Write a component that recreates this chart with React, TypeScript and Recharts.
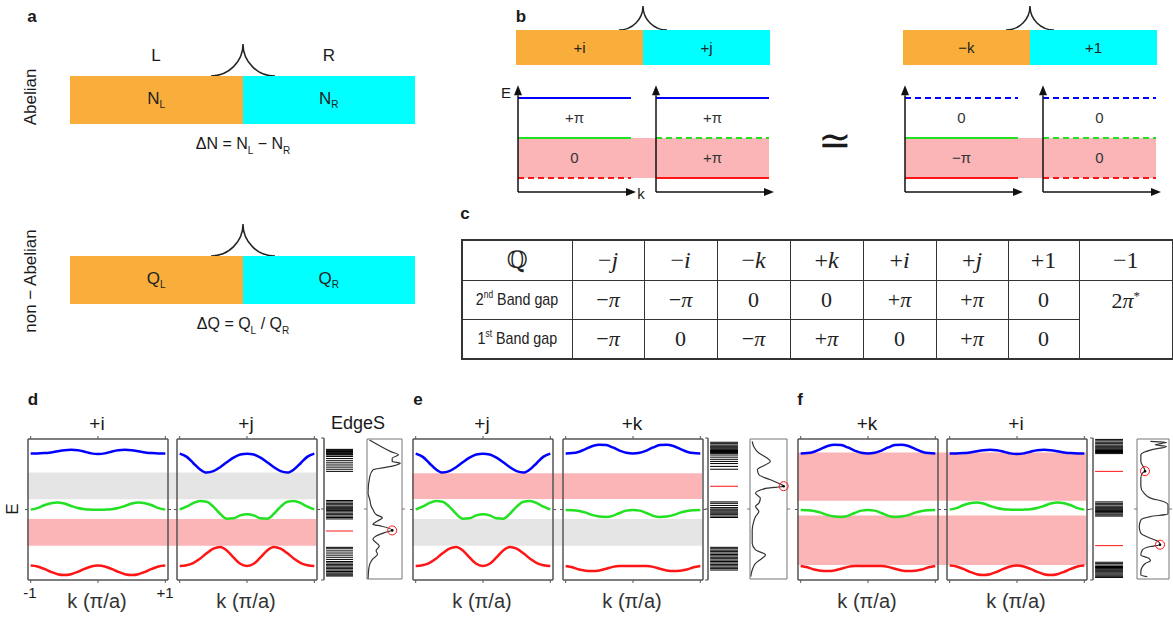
import React from "react";
import {
  ComposedChart,
  LineChart,
  Line,
  XAxis,
  YAxis,
  ReferenceArea,
  ReferenceLine,
  ReferenceDot,
} from "recharts";

// ---------- data ----------
const kGrid = [-1, -0.9, -0.8, -0.7, -0.6, -0.5, -0.4, -0.3, -0.2, -0.1, 0, 0.1, 0.2, 0.3, 0.4, 0.5, 0.6, 0.7, 0.8, 0.9, 1];

// +i bands
const iBlue = [8.98, 8.98, 9.0, 9.05, 9.13, 9.2, 9.23, 9.2, 9.1, 8.98, 8.94, 8.98, 9.1, 9.2, 9.23, 9.2, 9.13, 9.05, 9.0, 8.98, 8.98];
const iGreen = [4.99, 5.1, 5.3, 5.45, 5.5, 5.42, 5.25, 5.1, 5.02, 4.99, 4.98, 4.99, 5.02, 5.1, 5.25, 5.42, 5.5, 5.45, 5.3, 5.1, 4.99];
const iRed = [1.02, 0.96, 0.79, 0.58, 0.41, 0.35, 0.41, 0.58, 0.79, 0.96, 1.02, 0.96, 0.79, 0.58, 0.41, 0.35, 0.41, 0.58, 0.79, 0.96, 1.02];
// +j bands
const jBlue = [8.96, 8.75, 8.3, 7.85, 7.62, 7.72, 8.0, 8.35, 8.68, 8.9, 8.96, 8.9, 8.68, 8.35, 8.0, 7.72, 7.62, 7.85, 8.3, 8.75, 8.96];
const jGreen = [5.01, 5.2, 5.45, 5.6, 5.55, 5.2, 4.7, 4.35, 4.38, 4.58, 4.66, 4.58, 4.38, 4.35, 4.7, 5.2, 5.55, 5.6, 5.45, 5.2, 5.01];
const jRed = [0.99, 1.04, 1.2, 1.5, 1.9, 2.22, 2.34, 2.1, 1.6, 1.15, 1.0, 1.15, 1.6, 2.1, 2.34, 2.22, 1.9, 1.5, 1.2, 1.04, 0.99];
// +k bands
const kBlue = [8.98, 9.0, 9.1, 9.3, 9.5, 9.6, 9.57, 9.4, 9.18, 9.02, 8.98, 9.02, 9.18, 9.4, 9.57, 9.6, 9.5, 9.3, 9.1, 9.0, 8.98];
const kGreen = [4.96, 4.95, 4.9, 4.78, 4.6, 4.5, 4.47, 4.55, 4.75, 4.92, 4.96, 4.92, 4.75, 4.55, 4.47, 4.5, 4.6, 4.78, 4.9, 4.95, 4.96];
const kRed = [1.0, 0.9, 0.75, 0.66, 0.64, 0.68, 0.8, 0.93, 0.99, 1.0, 1.0, 1.0, 0.99, 0.93, 0.8, 0.68, 0.64, 0.66, 0.75, 0.9, 1.0];

// shaded gaps (E ranges)
const dGray = [5.65, 7.55];
const dPink = [2.35, 4.26];
const ePink = [5.67, 7.5];
const eGray = [2.36, 4.26];
const fPinkTop = [5.55, 8.98];
const fPinkBottom = [1.0, 4.5];

// edge-state levels
const dLevels = [9.2, 9.15, 9.1, 9.05, 9.0, 8.95, 8.9, 8.85, 8.8, 8.7, 8.55, 8.4, 8.25, 8.1, 7.95, 7.8, 7.65,
  5.6, 5.5, 5.4, 5.3, 5.2, 5.12, 5.05, 4.98, 4.9, 4.8, 4.7, 4.6, 4.5, 4.4, 4.3,
  2.3, 2.2, 2.05, 1.9, 1.75, 1.6, 1.45, 1.3, 1.2, 1.1, 1.0, 0.9, 0.8, 0.7, 0.6, 0.5, 0.42, 0.35, 0.28];
const dEdge = [3.45];
const eLevels = [9.7, 9.6, 9.5, 9.42, 9.35, 9.28, 9.2, 9.12, 9.05, 8.98, 8.9, 8.8, 8.65, 8.5, 8.35, 8.2, 8.0, 7.8,
  5.5, 5.4, 5.25, 5.1, 5.0, 4.93, 4.86, 4.78, 4.7, 4.6, 4.5, 4.4,
  2.3, 2.2, 2.1, 2.0, 1.9, 1.8, 1.7, 1.6, 1.5, 1.4, 1.3, 1.2, 1.1, 1.0, 0.9, 0.8, 0.7];
const eEdge = [6.6];
const fLevels = [9.9, 9.8, 9.7, 9.6, 9.5, 9.42, 9.35, 9.28, 9.2, 9.12, 9.05, 8.98, 8.9,
  5.5, 5.4, 5.3, 5.2, 5.12, 5.05, 4.98, 4.9, 4.82, 4.74, 4.65, 4.58, 4.5,
  1.25, 1.15, 1.05, 0.95, 0.88, 0.8, 0.72, 0.65, 0.58, 0.5, 0.42, 0.34, 0.26, 0.18];
const fEdge = [7.65, 2.42];

// edge density of states (E, value)
const dDosE = [9.93, 9.46, 9.1, 8.87, 8.63, 8.39, 8.27, 8.04, 7.8, 7.33, 6.15, 5.67, 5.2, 4.96, 4.61, 4.37, 4.14, 3.9, 3.78, 3.5, 3.31, 3.07, 2.84, 2.6, 2.36, 2.01, 1.77, 1.42, 1.06, 0.71, 0.0];
const dDosV = [0.07, 0.4, 0.68, 0.9, 0.72, 0.72, 0.95, 0.68, 0.17, 0.08, 0.03, 0.08, 0.12, 0.17, 0.26, 0.44, 0.3, 0.17, 0.4, 0.72, 0.5, 0.26, 0.17, 0.26, 0.35, 0.26, 0.3, 0.16, 0.08, 0.05, 0.03];
const dDotE = [3.47];
const dDotV = [0.72];
const eDosE = [9.83, 9.47, 9.0, 8.64, 8.4, 8.16, 7.8, 7.45, 7.09, 6.78, 6.63, 6.49, 6.13, 5.78, 5.42, 5.18, 4.82, 4.46, 4.1, 3.51, 2.55, 2.08, 1.72, 1.48, 1.12, 0.64, 0.17];
const eDosV = [0.06, 0.1, 0.24, 0.46, 0.55, 0.42, 0.2, 0.24, 0.55, 0.82, 0.91, 0.46, 0.15, 0.28, 0.24, 0.15, 0.24, 0.15, 0.1, 0.06, 0.06, 0.15, 0.42, 0.33, 0.15, 0.06, 0.02];
const eDotE = [6.63];
const eDotV = [0.91];
const fDosE = [9.83, 9.76, 9.59, 9.47, 9.24, 8.88, 8.4, 7.92, 7.7, 7.57, 7.21, 6.61, 6.13, 5.78, 5.54, 5.3, 4.65, 4.46, 4.22, 3.75, 3.27, 2.91, 2.67, 2.45, 2.32, 2.08, 1.72, 1.48, 1.31, 1.12, 0.88, 0.53, 0.29, 0.17];
const fDosV = [0.42, 0.92, 0.57, 0.92, 0.47, 0.12, 0.12, 0.22, 0.25, 0.17, 0.12, 0.12, 0.22, 0.42, 0.82, 0.97, 0.97, 0.42, 0.12, 0.07, 0.12, 0.42, 0.67, 0.72, 0.42, 0.17, 0.12, 0.37, 0.42, 0.27, 0.17, 0.12, 0.12, 0.32];
const fDotE = [7.7, 2.45];
const fDotV = [0.25, 0.72];

// panel b schematic
const bLevels = [1, 2, 3];
const bOrigins = [13, 151];
const leftDash = [[true, false, false], [false, true, false]];
const rightDash = [[false, false, true], [true, true, true]];
const leftGaps = [["0", "+π"], ["+π", "+π"]];
const rightGaps = [["−π", "0"], ["0", "0"]];

// table c
const qHead = [["−", "j"], ["−", "i"], ["−", "k"], ["+", "k"], ["+", "i"], ["+", "j"], ["+1", ""], ["−1", ""]];
const gap2nd = [["−", "π"], ["−", "π"], ["0", ""], ["0", ""], ["+", "π"], ["+", "π"], ["0", ""]];
const gap1st = [["−", "π"], ["0", ""], ["−", "π"], ["+", "π"], ["0", ""], ["+", "π"], ["0", ""]];

// ---------- styling ----------
const FONT = "'Liberation Sans', Arial, sans-serif";
const SERIF = "'Liberation Serif', 'DejaVu Serif', serif";
const ORANGE = "#F9AE3C";
const CYAN = "#00FFFF";
const PINK = "#FBB5B6";
const GRAY = "#E5E5E5";
const BLUE = "#0000FF";
const GREEN = "#22E022";
const RED = "#FF1515";
const FRAME = "#555";
const bColors = [RED, GREEN, BLUE];

const P = 5;
const BOX_TOP = 438;
const BOX_H = 141;
const BOX_W = 140;

function Txt({ x, y, size = 16, bold = false, rotate = 0, family = FONT, color = "#1a1a1a", children }: any) {
  return (
    <div
      style={{
        position: "absolute",
        left: x,
        top: y,
        transform: `translate(-50%, -50%) rotate(${rotate}deg)`,
        fontSize: size,
        fontFamily: family,
        fontWeight: bold ? 700 : 400,
        whiteSpace: "nowrap",
        lineHeight: 1,
        color,
      }}
    >
      {children}
    </div>
  );
}

function Cusp({ cx, base, r }: any) {
  return (
    <svg style={{ position: "absolute", left: cx - r - 2, top: base - r - 2 }} width={2 * r + 4} height={r + 4}>
      <path
        d={`M2 ${r + 2} A${r} ${r} 0 0 0 ${r + 2} 2 A${r} ${r} 0 0 0 ${2 * r + 2} ${r + 2}`}
        fill="none"
        stroke="#222"
        strokeWidth={1.5}
      />
    </svg>
  );
}

function SplitBar({ left, top, w, h, a, b, size = 16 }: any) {
  return (
    <div style={{ position: "absolute", left, top, width: w, height: h, display: "flex", fontFamily: FONT, fontSize: size, color: "#222" }}>
      <div style={{ flex: 1, background: ORANGE, display: "flex", alignItems: "center", justifyContent: "center" }}>{a}</div>
      <div style={{ flex: 1, background: CYAN, display: "flex", alignItems: "center", justifyContent: "center" }}>{b}</div>
    </div>
  );
}

const Arrow = (p: any) => {
  const { x1, y1, x2, y2 } = p;
  const ang = Math.atan2(y2 - y1, x2 - x1);
  const L = 10;
  const W = 4;
  const bx = x2 - L * Math.cos(ang);
  const by = y2 - L * Math.sin(ang);
  const px = -Math.sin(ang) * W;
  const py = Math.cos(ang) * W;
  return (
    <g>
      <line x1={x1} y1={y1} x2={bx} y2={by} stroke="#111" strokeWidth={1.5} />
      <polygon points={`${x2},${y2} ${bx + px},${by + py} ${bx - px},${by - py}`} fill="#111" />
    </g>
  );
};

function BPair({ left, dashes, gaps }: any) {
  const LEN = 113;
  return (
    <div style={{ position: "absolute", left, top: 78 }}>
      <ComposedChart width={275} height={120} margin={{ top: 0, right: 0, bottom: 0, left: 0 }} data={bOrigins.map((o) => ({ x: o }))}>
        <XAxis dataKey="x" type="number" domain={[0, 275]} allowDataOverflow hide />
        <YAxis type="number" domain={[0.5, 3.5]} allowDataOverflow hide />
        <ReferenceArea x1={bOrigins[0]} x2={bOrigins[1] + LEN} y1={bLevels[0]} y2={bLevels[1]} fill={PINK} fillOpacity={1} stroke="none" />
        {bOrigins.map((o, s) =>
          [0, 1].map((g) => (
            <ReferenceArea
              key={`g${s}${g}`}
              x1={o}
              x2={o + LEN}
              y1={bLevels[g]}
              y2={bLevels[g + 1]}
              fill="none"
              fillOpacity={0}
              stroke="none"
              label={{ value: gaps[s][g], position: "center", fill: "#333", fontSize: 15, fontFamily: FONT }}
            />
          ))
        )}
        {bOrigins.map((o, s) =>
          bLevels.map((lv, li) => (
            <ReferenceLine
              key={`l${s}${li}`}
              segment={[{ x: o, y: lv }, { x: o + LEN, y: lv }]}
              stroke={bColors[li]}
              strokeWidth={2}
              strokeDasharray={dashes[s][li] ? "6 4" : undefined}
            />
          ))
        )}
        {bOrigins.map((o, s) => (
          <ReferenceLine key={`ay${s}`} segment={[{ x: o, y: 0.65 }, { x: o, y: 3.32 }]} shape={Arrow} />
        ))}
        {bOrigins.map((o, s) => (
          <ReferenceLine key={`ax${s}`} segment={[{ x: o, y: 0.65 }, { x: o + 118, y: 0.65 }]} shape={Arrow} />
        ))}
      </ComposedChart>
    </div>
  );
}

const axisLine = { stroke: FRAME, strokeWidth: 1.5 };
const tickLine = { stroke: FRAME, strokeWidth: 1 };
const blank = () => "";

function BandBox({ left, blue, green, red }: any) {
  const data = kGrid.map((k, i) => ({ k, blue: blue[i], green: green[i], red: red[i] }));
  return (
    <div style={{ position: "absolute", left: left - P, top: BOX_TOP - P }}>
      <LineChart width={BOX_W + 2 * P + 2} height={BOX_H + 2 * P + 2} data={data} margin={{ top: P, right: P, bottom: P, left: P }}>
        <XAxis dataKey="k" type="number" domain={[-1.04, 1.04]} allowDataOverflow ticks={[-1, 0, 1]} height={1} tickSize={3} tickFormatter={blank} axisLine={axisLine} tickLine={tickLine} />
        <XAxis xAxisId="top" orientation="top" dataKey="k" type="number" domain={[-1.04, 1.04]} allowDataOverflow ticks={[-1, 0, 1]} height={1} tickSize={3} tickFormatter={blank} axisLine={axisLine} tickLine={tickLine} />
        <YAxis type="number" domain={[0, 10]} allowDataOverflow ticks={[5]} width={1} tickSize={3} tickFormatter={blank} axisLine={axisLine} tickLine={tickLine} />
        <YAxis yAxisId="right" orientation="right" type="number" domain={[0, 10]} allowDataOverflow ticks={[5]} width={1} tickSize={3} tickFormatter={blank} axisLine={axisLine} tickLine={tickLine} />
        <Line dataKey="blue" type="monotone" stroke={BLUE} strokeWidth={2.5} dot={false} isAnimationActive={false} />
        <Line dataKey="green" type="monotone" stroke={GREEN} strokeWidth={2.5} dot={false} isAnimationActive={false} />
        <Line dataKey="red" type="monotone" stroke={RED} strokeWidth={2.5} dot={false} isAnimationActive={false} />
      </LineChart>
    </div>
  );
}

function Shade({ left, right, areas }: any) {
  return (
    <div style={{ position: "absolute", left, top: BOX_TOP }}>
      <ComposedChart width={right - left} height={BOX_H} margin={{ top: 0, right: 0, bottom: 0, left: 0 }} data={[{ x: 0 }, { x: 1 }]}>
        <XAxis dataKey="x" type="number" domain={[0, 1]} allowDataOverflow hide />
        <YAxis type="number" domain={[0, 10]} allowDataOverflow hide />
        {areas.map((a: any, i: number) => (
          <ReferenceArea key={i} x1={0} x2={1} y1={a.range[0]} y2={a.range[1]} fill={a.color} fillOpacity={1} stroke="none" />
        ))}
      </ComposedChart>
    </div>
  );
}

function EdgeBars({ axisX, right, levels, edge }: any) {
  return (
    <div style={{ position: "absolute", left: axisX - P, top: BOX_TOP - P }}>
      <ComposedChart width={right - axisX + 2 * P} height={BOX_H + 2 * P + 1} margin={{ top: P, right: P, bottom: P, left: P }} data={[{ x: 0 }, { x: 1 }]}>
        <XAxis dataKey="x" type="number" domain={[0, 1]} allowDataOverflow hide />
        <YAxis type="number" domain={[0, 10]} allowDataOverflow ticks={[0, 5, 10]} width={1} tickSize={3} tickFormatter={blank} axisLine={axisLine} tickLine={tickLine} />
        {levels.map((lv: number, i: number) => (
          <ReferenceLine key={i} segment={[{ x: 0.07, y: lv }, { x: 1, y: lv }]} stroke="#000" strokeWidth={1} />
        ))}
        {edge.map((lv: number, i: number) => (
          <ReferenceLine key={`r${i}`} segment={[{ x: 0.07, y: lv }, { x: 1, y: lv }]} stroke={RED} strokeWidth={1} />
        ))}
      </ComposedChart>
    </div>
  );
}

const thin = { stroke: "#777", strokeWidth: 1 };

function Dos({ left, right, es, vs, dotE, dotV }: any) {
  const data = es.map((e: number, i: number) => ({ E: e, v: vs[i] })).reverse();
  return (
    <div style={{ position: "absolute", left: left - P, top: BOX_TOP - P }}>
      <LineChart layout="vertical" width={right - left + 2 * P + 1} height={BOX_H + 2 * P + 1} data={data} margin={{ top: P, right: P, bottom: P, left: P }}>
        <XAxis type="number" domain={[0, 1]} allowDataOverflow height={1} tick={false} tickLine={false} axisLine={thin} />
        <XAxis xAxisId="top" orientation="top" type="number" domain={[0, 1]} allowDataOverflow height={1} tick={false} tickLine={false} axisLine={thin} />
        <YAxis type="number" dataKey="E" reversed domain={[0, 10]} allowDataOverflow ticks={[5]} width={1} tickSize={3} tickFormatter={blank} axisLine={thin} tickLine={thin} />
        <YAxis yAxisId="right" orientation="right" type="number" dataKey="E" reversed domain={[0, 10]} allowDataOverflow ticks={[5]} width={1} tickSize={3} tickFormatter={blank} axisLine={thin} tickLine={thin} />
        <Line dataKey="v" type="monotone" stroke="#333" strokeWidth={1.2} dot={false} isAnimationActive={false} />
        {dotE.map((e: number, i: number) => (
          <ReferenceDot key={`c${i}`} x={dotV[i]} y={e} r={4.5} fill="none" stroke={RED} strokeWidth={1} />
        ))}
        {dotE.map((e: number, i: number) => (
          <ReferenceDot key={`d${i}`} x={dotV[i]} y={e} r={1.3} fill="#000" stroke="none" />
        ))}
      </LineChart>
    </div>
  );
}

function KLabel({ x }: any) {
  return (
    <Txt x={x} y={601} size={20} color="#333">
      k (π/a)
    </Txt>
  );
}

function Cell({ children, style }: any) {
  return (
    <td style={{ border: "1.5px solid #333", textAlign: "center", verticalAlign: "middle", padding: 0, ...style }}>{children}</td>
  );
}

function Sym({ s }: any) {
  return (
    <span>
      {s[0]}
      <i>{s[1]}</i>
    </span>
  );
}

function RowLabel({ n, sfx }: any) {
  return (
    <span style={{ display: "inline-block", transform: "scaleX(0.84)", fontFamily: FONT, fontSize: 17, whiteSpace: "nowrap" }}>
      {n}
      <sup style={{ fontSize: 10 }}>{sfx}</sup> Band gap
    </span>
  );
}

function TableC() {
  const colW = [110, 72, 73, 73, 73, 73, 72, 71, 94];
  return (
    <table
      style={{
        position: "absolute",
        left: 461,
        top: 239,
        borderCollapse: "collapse",
        border: "2px solid #333",
        tableLayout: "fixed",
        width: 711,
        fontFamily: SERIF,
        color: "#222",
      }}
    >
      <colgroup>
        {colW.map((w, i) => (
          <col key={i} style={{ width: w }} />
        ))}
      </colgroup>
      <tbody>
        <tr style={{ height: 40 }}>
          <Cell style={{ fontSize: 24 }}>ℚ</Cell>
          {qHead.map((s, i) => (
            <Cell key={i} style={{ fontSize: 24 }}>
              <Sym s={s} />
            </Cell>
          ))}
        </tr>
        <tr style={{ height: 39 }}>
          <Cell>
            <RowLabel n="2" sfx="nd" />
          </Cell>
          {gap2nd.map((s, i) => (
            <Cell key={i} style={{ fontSize: 22 }}>
              <Sym s={s} />
            </Cell>
          ))}
          <td rowSpan={2} style={{ border: "1.5px solid #333", textAlign: "center", verticalAlign: "top", paddingTop: 7, fontSize: 22 }}>
            2<i>π</i>
            <sup style={{ fontSize: 13 }}>*</sup>
          </td>
        </tr>
        <tr style={{ height: 40 }}>
          <Cell>
            <RowLabel n="1" sfx="st" />
          </Cell>
          {gap1st.map((s, i) => (
            <Cell key={i} style={{ fontSize: 22 }}>
              <Sym s={s} />
            </Cell>
          ))}
        </tr>
      </tbody>
    </table>
  );
}

function BandPanel({ lefts, sets, areas, axisX, barsRight, levels, edge, dosL, dosR, dos, titles }: any) {
  return (
    <>
      <Shade left={lefts[0]} right={lefts[1] + BOX_W} areas={areas} />
      {sets.map((s: any, i: number) => (
        <BandBox key={i} left={lefts[i]} blue={s[0]} green={s[1]} red={s[2]} />
      ))}
      <EdgeBars axisX={axisX} right={barsRight} levels={levels} edge={edge} />
      <Dos left={dosL} right={dosR} es={dos[0]} vs={dos[1]} dotE={dos[2]} dotV={dos[3]} />
      {lefts.map((l: number, i: number) => (
        <React.Fragment key={i}>
          <Txt x={l + BOX_W / 2} y={423} size={19}>
            {titles[i]}
          </Txt>
          <KLabel x={l + BOX_W / 2} />
        </React.Fragment>
      ))}
    </>
  );
}

export default function App() {
  const iSet = [iBlue, iGreen, iRed];
  const jSet = [jBlue, jGreen, jRed];
  const kSet = [kBlue, kGreen, kRed];
  return (
    <div style={{ position: "absolute", left: 0, top: 0, width: 1173, height: 617, background: "#fff", overflow: "hidden", fontFamily: FONT }}>
      {/* panel a */}
      <Txt x={32} y={16} size={17} bold>a</Txt>
      <Txt x={156} y={55} size={17}>L</Txt>
      <Txt x={329} y={55} size={17}>R</Txt>
      <Cusp cx={243} base={76} r={32} />
      <SplitBar left={70} top={76} w={345} h={48} size={17} a={<span>N<sub style={{ fontSize: 10 }}>L</sub></span>} b={<span>N<sub style={{ fontSize: 10 }}>R</sub></span>} />
      <Txt x={243} y={146} size={16}>
        ΔN = N<sub style={{ fontSize: 10 }}>L</sub> − N<sub style={{ fontSize: 10 }}>R</sub>
      </Txt>
      <Txt x={30} y={97} size={17} rotate={-90}>Abelian</Txt>
      <Cusp cx={243} base={256} r={32} />
      <SplitBar left={70} top={256} w={345} h={48} size={17} a={<span>Q<sub style={{ fontSize: 10 }}>L</sub></span>} b={<span>Q<sub style={{ fontSize: 10 }}>R</sub></span>} />
      <Txt x={243} y={326} size={16}>
        ΔQ = Q<sub style={{ fontSize: 10 }}>L</sub> / Q<sub style={{ fontSize: 10 }}>R</sub>
      </Txt>
      <Txt x={30} y={281} size={17} rotate={-90}>non − Abelian</Txt>

      {/* panel b */}
      <Txt x={521} y={16} size={17} bold>b</Txt>
      <Cusp cx={643} base={30} r={24} />
      <SplitBar left={516} top={30} w={254} h={35} size={15} a="+i" b="+j" />
      <Cusp cx={1030} base={30} r={24} />
      <SplitBar left={903} top={30} w={254} h={35} size={15} a="−k" b="+1" />
      <BPair left={505} dashes={leftDash} gaps={leftGaps} />
      <BPair left={892} dashes={rightDash} gaps={rightGaps} />
      <Txt x={506} y={92} size={15}>E</Txt>
      <Txt x={641} y={193} size={15}>k</Txt>
      <Txt x={835} y={140} size={40} family="'DejaVu Sans', sans-serif">≃</Txt>

      {/* panel c */}
      <Txt x={465} y={213} size={17} bold>c</Txt>
      <TableC />

      {/* panel d */}
      <Txt x={33} y={399} size={17} bold>d</Txt>
      <BandPanel
        lefts={[27, 176]}
        sets={[iSet, jSet]}
        areas={[{ range: dGray, color: GRAY }, { range: dPink, color: PINK }]}
        axisX={323}
        barsRight={353}
        levels={dLevels}
        edge={dEdge}
        dosL={366}
        dosR={402}
        dos={[dDosE, dDosV, dDotE, dDotV]}
        titles={["+i", "+j"]}
      />
      <Txt x={358} y={423} size={18}>EdgeS</Txt>
      <Txt x={12} y={509} size={17} rotate={-90}>E</Txt>
      <Txt x={30} y={592} size={15}>-1</Txt>
      <Txt x={165} y={592} size={15}>+1</Txt>

      {/* panel e */}
      <Txt x={418} y={399} size={17} bold>e</Txt>
      <BandPanel
        lefts={[412, 562]}
        sets={[jSet, kSet]}
        areas={[{ range: ePink, color: PINK }, { range: eGray, color: GRAY }]}
        axisX={707}
        barsRight={738}
        levels={eLevels}
        edge={eEdge}
        dosL={749}
        dosR={787}
        dos={[eDosE, eDosV, eDotE, eDotV]}
        titles={["+j", "+k"]}
      />

      {/* panel f */}
      <Txt x={800} y={399} size={17} bold>f</Txt>
      <BandPanel
        lefts={[797, 946]}
        sets={[kSet, iSet]}
        areas={[{ range: fPinkTop, color: PINK }, { range: fPinkBottom, color: PINK }]}
        axisX={1092}
        barsRight={1123}
        levels={fLevels}
        edge={fEdge}
        dosL={1136}
        dosR={1169}
        dos={[fDosE, fDosV, fDotE, fDotV]}
        titles={["+k", "+i"]}
      />
    </div>
  );
}
